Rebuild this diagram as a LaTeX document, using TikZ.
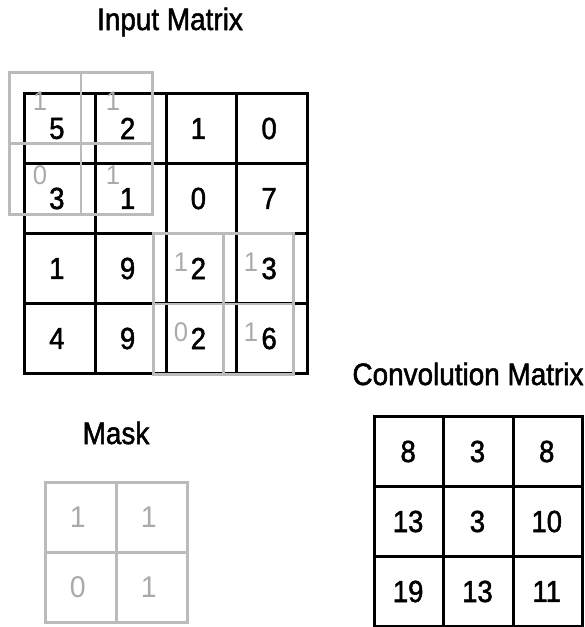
\documentclass[tikz,border=0pt]{standalone}
\usepackage{fontspec}
\setmainfont{Liberation Sans}[FakeStretch=0.9, FakeBold=1.6]
\newfontfamily\lightfont{Liberation Sans}[FakeStretch=0.95]
\definecolor{maskgray}{RGB}{187,187,187}
\definecolor{labelgray}{RGB}{170,170,170}
\begin{document}
\begin{tikzpicture}[x=1pt,y=-1pt,
  cell/.style={draw=black, line width=3pt, inner sep=0pt, anchor=north west},
  graycell/.style={draw=maskgray, line width=2.5pt, inner sep=0pt, anchor=north west},
  digit/.style={inner sep=0pt, font=\fontsize{30.5}{30.5}\selectfont, text=black},
  graydigit/.style={inner sep=0pt, font=\lightfont\fontsize{30}{30}\selectfont, text=labelgray},
  weight/.style={inner sep=0pt, font=\lightfont\fontsize{27}{27}\selectfont, text=labelgray},
  title/.style={inner sep=0pt, anchor=base, font=\fontsize{31}{31}\selectfont}]
\useasboundingbox (0,0) rectangle (585,627);

% titles
\node[title] (t-in) at (170,30) {Input Matrix};
\node[title] (t-mask) at (116,444) {Mask};
\node[title] (t-conv) at (468,385) {Convolution Matrix};

% input matrix
\foreach \r/\row in {1/{5,2,1,0},2/{3,1,0,7},3/{1,9,2,3},4/{4,9,2,6}} {
  \foreach \v [count=\c] in \row {
    \node[cell, minimum width=70.75pt, minimum height=70pt] (in-\r-\c) at ({23+(\c-1)*70.75},{92+(\r-1)*70}) {};
    \node[digit] (inv-\r-\c) at ([xshift=-3pt]in-\r-\c.center) {\v};
  }
}

% mask windows over the input
\foreach \r in {1,2} {
  \foreach \c in {1,2} {
    \node[graycell, minimum width=71.5pt, minimum height=71pt] (wa-\r-\c) at ({8+(\c-1)*71.5},{71+(\r-1)*71}) {};
    \node[graycell, minimum width=70pt, minimum height=70.5pt] (wb-\r-\c) at ({152+(\c-1)*70},{232+(\r-1)*70.5}) {};
  }
}
% weights
\node[weight] (wta-1-1) at (40,101) {1};
\node[weight] (wta-1-2) at (113,101) {1};
\node[weight] (wta-2-1) at (40,175) {0};
\node[weight] (wta-2-2) at (113,175) {1};
\node[weight] (wtb-1-1) at (181,262) {1};
\node[weight] (wtb-1-2) at (251,262) {1};
\node[weight] (wtb-2-1) at (181,332) {0};
\node[weight] (wtb-2-2) at (251,332) {1};

% mask
\foreach \r/\row in {1/{1,1},2/{0,1}} {
  \foreach \v [count=\c] in \row {
    \node[graycell, minimum width=71pt, minimum height=70pt] (m-\r-\c) at ({44+(\c-1)*71},{481+(\r-1)*70}) {};
    \node[graydigit] (mv-\r-\c) at ([xshift=-3pt]m-\r-\c.center) {\v};
  }
}

% convolution matrix
\foreach \r/\row in {1/{8,3,8},2/{13,3,10},3/{19,13,11}} {
  \foreach \v [count=\c] in \row {
    \node[cell, minimum width=69.3pt, minimum height=70pt] (cv-\r-\c) at ({373+(\c-1)*69.3},{415+(\r-1)*70}) {};
    \node[digit] (cvv-\r-\c) at ([xshift=-1pt]cv-\r-\c.center) {\v};
  }
}
\end{tikzpicture}
\end{document}
